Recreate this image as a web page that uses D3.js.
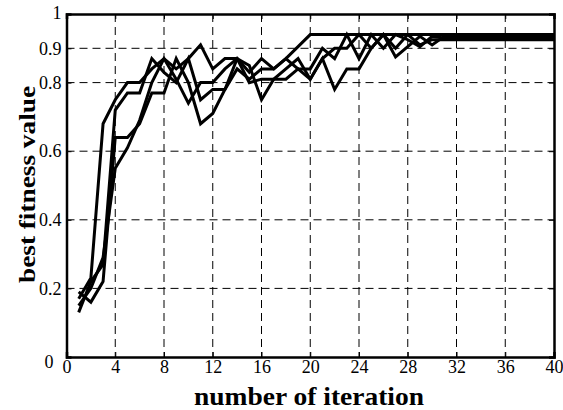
<!DOCTYPE html>
<html>
<head>
<meta charset="utf-8">
<script src="https://cdn.jsdelivr.net/npm/d3@7"></script>
<style>
  html, body { margin: 0; padding: 0; background: #fff; }
  svg { display: block; }
  text { font-family: 'Liberation Serif', 'Times New Roman', serif; }
</style>
</head>
<body>
<script>
const iterations = d3.range(1, 41);
const xTicks = [0, 4, 8, 12, 16, 20, 24, 28, 32, 36, 40];
const yTicks = [0, 0.2, 0.4, 0.6, 0.8, 0.9, 1];
const yTickLabels = ["0", "0.2", "0.4", "0.6", "0.8", "0.9", "1"];

const run1 = [0.17, 0.23, 0.68, 0.75, 0.80, 0.80, 0.84, 0.87, 0.84, 0.87,
              0.91, 0.84, 0.87, 0.87, 0.83, 0.87, 0.84, 0.87, 0.905, 0.94,
              0.94, 0.94, 0.94, 0.94, 0.94, 0.94, 0.94, 0.94, 0.94, 0.94,
              0.94, 0.94, 0.94, 0.94, 0.94, 0.94, 0.94, 0.94, 0.94, 0.94];
const run2 = [0.19, 0.16, 0.22, 0.64, 0.64, 0.68, 0.77, 0.77, 0.87, 0.80,
              0.68, 0.71, 0.78, 0.87, 0.85, 0.75, 0.81, 0.81, 0.84, 0.81,
              0.87, 0.78, 0.84, 0.84, 0.90, 0.94, 0.875, 0.905, 0.935, 0.91,
              0.935, 0.935, 0.935, 0.935, 0.935, 0.935, 0.935, 0.935, 0.935, 0.935];
const run3 = [0.13, 0.22, 0.27, 0.72, 0.77, 0.77, 0.87, 0.83, 0.80, 0.87,
              0.75, 0.78, 0.78, 0.84, 0.81, 0.84, 0.84, 0.87, 0.84, 0.84,
              0.90, 0.87, 0.94, 0.87, 0.94, 0.90, 0.94, 0.925, 0.905, 0.935,
              0.93, 0.93, 0.93, 0.93, 0.93, 0.93, 0.93, 0.93, 0.93, 0.93];
const run4 = [0.15, 0.20, 0.29, 0.55, 0.61, 0.69, 0.80, 0.87, 0.81, 0.74,
              0.80, 0.80, 0.84, 0.87, 0.80, 0.81, 0.81, 0.84, 0.87, 0.81,
              0.87, 0.90, 0.90, 0.94, 0.90, 0.94, 0.90, 0.94, 0.91, 0.925,
              0.925, 0.925, 0.925, 0.925, 0.925, 0.925, 0.925, 0.925, 0.925, 0.925];
const runs = [run1, run2, run3, run4];

const W = 563, H = 410;
const L = 66.5, R = 554, T = 14, B = 357;
const font = "'Liberation Serif', 'Times New Roman', serif";

const svg = d3.select("body").append("svg").attr("width", W).attr("height", H);

const x = d3.scaleLinear().domain([0, 40]).range([L, R]);
const y = d3.scaleLinear().domain([0, 1]).range([B, T]);

// grid
const grid = svg.append("g").attr("stroke", "#000").attr("stroke-width", 1).attr("stroke-dasharray", "8,5");
grid.selectAll("line.v").data(xTicks.slice(1, -1)).join("line")
  .attr("x1", d => x(d)).attr("x2", d => x(d)).attr("y1", T).attr("y2", B);
grid.selectAll("line.h").data(yTicks.slice(1, -1)).join("line")
  .attr("x1", L).attr("x2", R).attr("y1", d => y(d)).attr("y2", d => y(d));

// lines
const line = d3.line().x((d, i) => x(iterations[i])).y(d => y(d));
svg.append("g").selectAll("path").data(runs).join("path")
  .attr("d", line).attr("fill", "none").attr("stroke", "#000")
  .attr("stroke-width", 3).attr("stroke-linejoin", "miter");

// axes
const tickLen = 5;
const xAxisB = svg.append("g").attr("transform", `translate(0,${B})`)
  .call(d3.axisBottom(x).tickValues(xTicks).tickSize(-tickLen).tickPadding(3).tickFormat(d3.format("d")));
const xAxisT = svg.append("g").attr("transform", `translate(0,${T})`)
  .call(d3.axisTop(x).tickValues(xTicks).tickSize(-tickLen).tickFormat(""));
const yAxisL = svg.append("g").attr("transform", `translate(${L},0)`)
  .call(d3.axisLeft(y).tickValues(yTicks).tickSize(-tickLen).tickPadding(5)
    .tickFormat((d, i) => yTickLabels[i]));
const yAxisR = svg.append("g").attr("transform", `translate(${R},0)`)
  .call(d3.axisRight(y).tickValues(yTicks).tickSize(-tickLen).tickFormat(""));

[xAxisB, xAxisT, yAxisL, yAxisR].forEach(g => {
  g.attr("font-family", font).attr("font-size", 18);
  g.select(".domain").attr("stroke", "#000").attr("stroke-width", 2.5);
  g.selectAll(".tick line").attr("stroke", "#000").attr("stroke-width", 1);
  g.selectAll("text").style("font-family", font).attr("font-size", 18).attr("fill", "#000");
});
xAxisB.selectAll(".tick text").attr("dy", "0.71em");
yAxisL.selectAll(".tick text").attr("dy", "0.32em");
yAxisL.selectAll(".tick text").filter(d => d === 0).attr("dx", -8).attr("dy", "0.6em");
yAxisL.selectAll(".tick text").filter(d => d === 1).attr("dy", "0.25em");

// titles
svg.append("text").attr("x", 309).attr("y", 405)
  .attr("text-anchor", "middle").style("font-family", font).attr("font-weight", "bold")
  .attr("font-size", 25).attr("textLength", 230).attr("lengthAdjust", "spacingAndGlyphs")
  .text("number of iteration");
svg.append("text").attr("transform", `translate(35,184.5) rotate(-90)`)
  .attr("text-anchor", "middle").style("font-family", font).attr("font-weight", "bold")
  .attr("font-size", 23).attr("textLength", 197).attr("lengthAdjust", "spacingAndGlyphs")
  .text("best fitness value");
</script>
</body>
</html>
